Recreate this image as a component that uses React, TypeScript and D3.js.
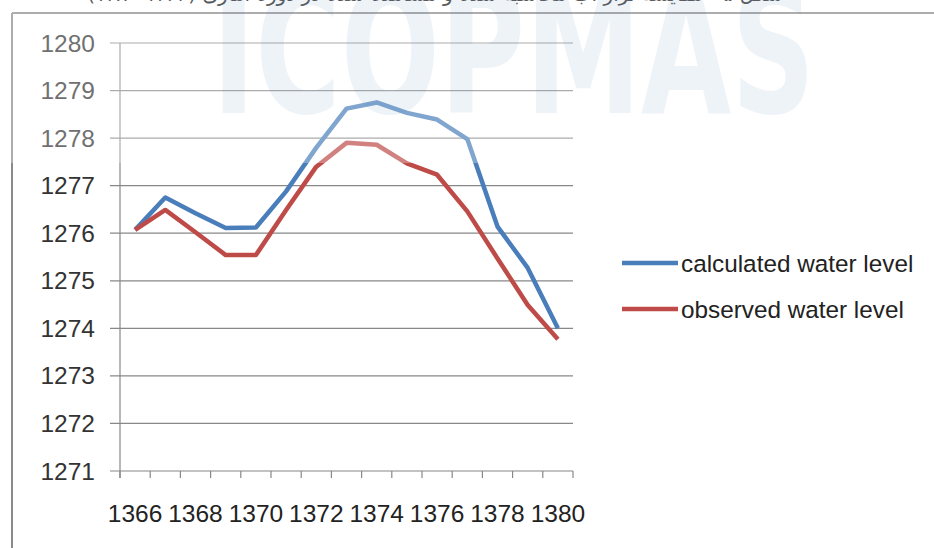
import React from "react";
import * as d3 from "d3";

// Water year (Persian calendar) and levels in metres
const years = [1366, 1367, 1368, 1369, 1370, 1371, 1372, 1373, 1374, 1375, 1376, 1377, 1378, 1379, 1380];
const calculated = [1276.07, 1276.75, 1276.42, 1276.11, 1276.12, 1276.88, 1277.8, 1278.62, 1278.75, 1278.53, 1278.39, 1277.98, 1276.14, 1275.27, 1274.0];
const observed = [1276.07, 1276.49, 1276.02, 1275.54, 1275.54, 1276.49, 1277.4, 1277.9, 1277.86, 1277.47, 1277.23, 1276.46, 1275.47, 1274.49, 1273.77];
const yTicks = [1271, 1272, 1273, 1274, 1275, 1276, 1277, 1278, 1279, 1280];
const xLabelYears = [1366, 1368, 1370, 1372, 1374, 1376, 1378, 1380];

const series = [
  { name: "calculated water level", values: calculated, color: "#4a7ebb" },
  { name: "observed water level", values: observed, color: "#be4b48" },
];

const W = 934;
const H = 548;
const FONT = "'Liberation Sans', Arial, sans-serif";

export default function App() {
  const x = d3.scaleBand<number>().domain(years).range([120, 573]).padding(0);
  const y = d3.scaleLinear().domain([1271, 1280]).range([471, 43]);
  const cx = (yr: number) => (x(yr) as number) + x.bandwidth() / 2;

  const line = d3
    .line<number>()
    .x((_, i) => cx(years[i]))
    .y((v) => y(v));

  const tickXs = years.map((yr) => x(yr) as number).concat([573]);
  const legendY = [263, 309];

  return (
    <svg
      width={W}
      height={H}
      style={{ position: "absolute", left: 0, top: 0, background: "#fff" }}
      xmlns="http://www.w3.org/2000/svg"
    >
      <rect x={0} y={0} width={W} height={H} fill="#fff" />

      {/* caption above the chart frame, mostly above the visible area */}
      <text
        x={435}
        y={1}
        textAnchor="middle"
        direction="rtl"
        fontFamily="'DejaVu Sans', sans-serif"
        fontSize={20}
        fill="#111"
      >
        شکل ۵ - مقایسه تراز آب محاسبه شده و مشاهده شده در دوره آماری (۱۳۶۶-۱۳۸۰)
      </text>

      {/* chart frame */}
      <line x1={12} y1={13} x2={W} y2={13} stroke="#8a8a8a" strokeWidth={2} />
      <line x1={12} y1={13} x2={12} y2={H} stroke="#8a8a8a" strokeWidth={2} />

      {/* horizontal gridlines with left tick marks */}
      {yTicks.map((t) => (
        <line key={"g" + t} x1={110} x2={573} y1={y(t)} y2={y(t)} stroke="#888" strokeWidth={1.2} />
      ))}
      {/* value axis */}
      <line x1={120} x2={120} y1={y(1280)} y2={y(1271) + 7} stroke="#888" strokeWidth={1.2} />
      {/* category tick marks */}
      {tickXs.map((tx, i) => (
        <line key={"t" + i} x1={tx} x2={tx} y1={y(1271)} y2={y(1271) + 7} stroke="#888" strokeWidth={1.2} />
      ))}

      {/* y labels */}
      {yTicks.map((t) => (
        <text
          key={"yl" + t}
          x={95}
          y={y(t)}
          textAnchor="end"
          dominantBaseline="central"
          fontFamily={FONT}
          fontSize={24.5}
          fill="#333"
        >
          {t}
        </text>
      ))}

      {/* x labels */}
      {xLabelYears.map((yr) => (
        <text
          key={"xl" + yr}
          x={cx(yr)}
          y={522}
          textAnchor="middle"
          fontFamily={FONT}
          fontSize={24.5}
          fill="#222"
        >
          {yr}
        </text>
      ))}

      {/* series lines */}
      {series.map((s) => (
        <path
          key={s.name}
          d={line(s.values) as string}
          fill="none"
          stroke={s.color}
          strokeWidth={4.5}
          strokeLinejoin="round"
          strokeLinecap="butt"
        />
      ))}

      {/* legend */}
      {series.map((s, i) => (
        <g key={"lg" + s.name}>
          <line x1={622} x2={678} y1={legendY[i]} y2={legendY[i]} stroke={s.color} strokeWidth={4.5} />
          <text
            x={681}
            y={legendY[i]}
            dominantBaseline="central"
            fontFamily={FONT}
            fontSize={24.3}
            fill="#222"
          >
            {s.name}
          </text>
        </g>
      ))}

      {/* washed-out upper band with the ICOPMAS watermark */}
      <rect x={0} y={0} width={W} height={163} fill="#fff" opacity={0.3} />
      <text
        x={212}
        y={113}
        textLength={603}
        lengthAdjust="spacingAndGlyphs"
        fontFamily="'DejaVu Sans', sans-serif"
        fontWeight="bold"
        fontSize={176}
        fill="#4f81bd"
        opacity={0.09}
      >
        ICOPMAS
      </text>
    </svg>
  );
}
